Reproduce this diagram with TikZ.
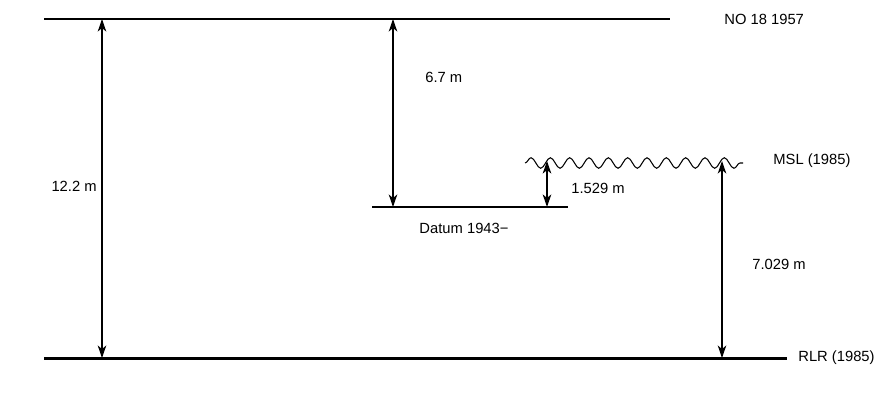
\documentclass[tikz,border=0pt]{standalone}
\usepackage{fontspec}
\setmainfont{Liberation Sans}
\usepackage{tikz}
\usetikzlibrary{arrows.meta,decorations.pathmorphing}

\begin{document}
\begin{tikzpicture}[
        x=0.02cm, y=-0.02cm,
        every node/.style={font=\fontsize{8.4}{10}\selectfont, inner sep=0pt},
        pegel/.style={line width=1.7pt},
        datum/.style={line width=0.6pt},
        welle/.style={line width=0.6pt, decorate,
                      decoration={snake, segment length=11, amplitude=3}},
        mass/.style={line width=0.6pt, {Stealth[length=0.25cm,width=0.17cm,inset=0.07cm]}-{Stealth[length=0.25cm,width=0.17cm,inset=0.07cm]}},
        massdick/.style={mass, line width=1.1pt}
    ]
        \useasboundingbox (0,0) rectangle (875,400);

        % Bezugslinien
        \coordinate (no1) at (44,19);   \coordinate (no2) at (670,19);
        \coordinate (rl1) at (44,358);  \coordinate (rl2) at (787,358);
        \coordinate (da1) at (372,207); \coordinate (da2) at (568,207);
        \coordinate (ms1) at (525,163); \coordinate (ms2) at (743,163);

        \draw[pegel] (no1) -- (no2);
        \draw[pegel] (rl1) -- (rl2);
        \draw[datum] (da1) -- (da2);
        \draw[welle] (ms1) -- (ms2);

        \node[anchor=west] (no)  at (724,19)  {NO 18 1957};
        \node[anchor=west] (rlr) at (798,358) {RLR (1985)};
        \node[anchor=west] (msl) at (773,161) {MSL (1985)};
        \node (dat) at (464,228) {Datum 1943\textminus};

        % Abstaende
        \coordinate (a1o) at (102,19);  \coordinate (a1u) at (102,358);
        \coordinate (a2o) at (393,19);  \coordinate (a2u) at (393,207);
        \coordinate (a3o) at (547,161); \coordinate (a3u) at (547,207);
        \coordinate (a4o) at (722,161); \coordinate (a4u) at (722,358);

        \draw[mass] (a1o) -- (a1u);
        \draw[mass] (a2o) -- (a2u);
        \draw[massdick] (a3o) -- (a3u);
        \draw[mass] (a4o) -- (a4u);

        \node[anchor=east] (m1) at (97,186)  {12.2 m};
        \node[anchor=west] (m2) at (425,77)  {6.7 m};
        \node[anchor=west] (m3) at (571,188) {1.529 m};
        \node[anchor=west] (m4) at (752,264) {7.029 m};
    \end{tikzpicture}
\end{document}
